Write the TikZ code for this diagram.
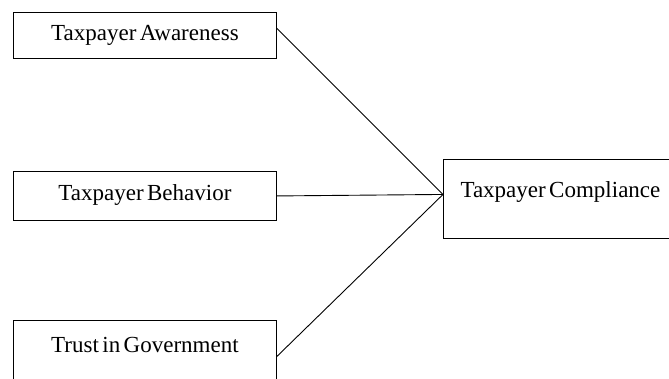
\documentclass[tikz,border=0pt]{standalone}
\usepackage{fontspec}
\setmainfont[WordSpace=0.6]{Liberation Serif}
\usetikzlibrary{positioning}

\begin{document}
\begin{tikzpicture}[x=1pt,y=-1pt,line width=0.9pt,
                    font=\fontsize{23}{27}\selectfont]
  \tikzstyle{factor}=[draw,inner sep=0pt,anchor=north west,minimum width=263pt]
  \useasboundingbox (0,0) rectangle (669,379);

  \node[factor,text height=28pt,text depth=18pt] (Awareness)  at (13,12)  {Taxpayer Awareness};
  \node[factor,text height=29pt,text depth=20pt] (Behavior)   at (13,171) {Taxpayer Behavior};
  \node[factor,text height=32pt,text depth=40pt] (Trust)      at (13,320) {Trust in Government};
  \node[factor,minimum width=234pt,text height=38pt,text depth=41pt] (Compliance) at (443,159) {Taxpayer Compliance};

  \coordinate (Target) at ([yshift=4.5pt]Compliance.west);

  \draw ([yshift=7pt]Awareness.east) -- (Target)
        (Behavior.east)               -- (Target)
        (Trust.east)                  -- (Target);
\end{tikzpicture}
\end{document}
